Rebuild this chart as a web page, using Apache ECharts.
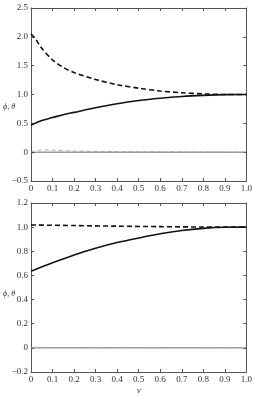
<!DOCTYPE html>
<html><head><meta charset="utf-8">
<script src="https://cdn.jsdelivr.net/npm/echarts@6/dist/echarts.min.js"></script>
<style>html,body{margin:0;padding:0;background:#fff}#c{width:255px;height:396px}</style>
</head><body><div id="c"></div>
<script>
// ---- Data (top panel) ----
var topSolidX = [0, 0.05, 0.1, 0.15, 0.2, 0.3, 0.4, 0.5, 0.6, 0.7, 0.8, 0.9, 1.0];
var topSolidY = [0.47, 0.55, 0.6, 0.65, 0.69, 0.77, 0.84, 0.895, 0.935, 0.965, 0.985, 0.998, 1.0];
var topDashX = [0, 0.02, 0.05, 0.1, 0.15, 0.2, 0.3, 0.4, 0.5, 0.6, 0.7, 0.8, 0.9, 1.0];
var topDashY = [2.05, 1.97, 1.8, 1.6, 1.47, 1.38, 1.26, 1.17, 1.11, 1.06, 1.03, 1.01, 1.0, 1.0];
var topThinSolidX = [0, 0.01, 0.03, 1.0];
var topThinSolidY = [-0.02, -0.01, 0.0, 0.0];
var topThinDashX = [0, 0.03, 0.06, 0.1, 0.2, 0.4, 0.6, 1.0];
var topThinDashY = [0, 0.03, 0.04, 0.035, 0.02, 0.01, 0.005, 0.0];
// ---- Data (bottom panel) ----
var botSolidX = [0, 0.1, 0.2, 0.3, 0.4, 0.5, 0.6, 0.7, 0.8, 0.9, 1.0];
var botSolidY = [0.635, 0.705, 0.77, 0.825, 0.872, 0.91, 0.945, 0.972, 0.99, 0.999, 1.0];
var botDashX = [0, 0.2, 0.4, 0.6, 0.8, 1.0];
var botDashY = [1.018, 1.013, 1.008, 1.004, 1.001, 1.0];
var botThinX = [0, 1.0];
var botThinY = [0, 0];
// ---- Axis ticks ----
var xTicks = [0, 0.1, 0.2, 0.3, 0.4, 0.5, 0.6, 0.7, 0.8, 0.9, 1.0];
var topYTicks = [-0.5, 0, 0.5, 1.0, 1.5, 2.0, 2.5];
var botYTicks = [-0.2, 0, 0.2, 0.4, 0.6, 0.8, 1.0, 1.2];
var yName = 'ϕ, θ';
var xName = 'v';

function pairs(xs, ys) { return xs.map(function (x, i) { return [x, ys[i]]; }); }
function fmtY(v) { if (Math.abs(v) < 1e-9) return '0'; var s = v.toFixed(1); return s.replace('-', '−'); }
function fmtX(v) { if (Math.abs(v) < 1e-9) return '0'; return v.toFixed(1); }

var font = 'Liberation Serif';
var axisCol = '#555';
var lab = { fontFamily: font, fontSize: 9, color: '#333' };

function xAx(grid, name) {
  return [{
    type: 'value', gridIndex: grid, min: xTicks[0], max: xTicks[xTicks.length - 1], interval: 0.1, position: 'bottom',
    axisLine: { onZero: false, lineStyle: { color: axisCol, width: 1 } },
    axisTick: { inside: true, length: 3, lineStyle: { color: axisCol } },
    axisLabel: Object.assign({ margin: 3, formatter: fmtX, showMaxLabel: true, showMinLabel: true }, lab),
    splitLine: { show: false },
    name: name || '', nameLocation: 'middle', nameGap: 14,
    nameTextStyle: { fontFamily: font, fontSize: 9, fontStyle: 'italic', color: '#333' }
  }, {
    type: 'value', gridIndex: grid, min: xTicks[0], max: xTicks[xTicks.length - 1], interval: 0.1, position: 'top',
    axisLine: { onZero: false, lineStyle: { color: axisCol, width: 1 } },
    axisTick: { inside: true, length: 3, lineStyle: { color: axisCol } },
    axisLabel: { show: false }, splitLine: { show: false }
  }];
}
function yAx(grid, min, max, interval) {
  return [{
    type: 'value', gridIndex: grid, min: min, max: max, interval: interval, position: 'left',
    axisLine: { onZero: false, lineStyle: { color: axisCol, width: 1 } },
    axisTick: { inside: true, length: 3, lineStyle: { color: axisCol } },
    axisLabel: Object.assign({ margin: 3, formatter: fmtY }, lab),
    splitLine: { show: false }
  }, {
    type: 'value', gridIndex: grid, min: min, max: max, interval: interval, position: 'right',
    axisLine: { onZero: false, lineStyle: { color: axisCol, width: 1 } },
    axisTick: { inside: true, length: 3, lineStyle: { color: axisCol } },
    axisLabel: { show: false }, splitLine: { show: false }
  }];
}

var xAxes = xAx(0).concat(xAx(1, xName));
var yAxes = yAx(0, topYTicks[0], topYTicks[topYTicks.length - 1], 0.5)
  .concat(yAx(1, botYTicks[0], botYTicks[botYTicks.length - 1], 0.2));

function line(xi, yi, data, width, color, type, z) {
  return {
    type: 'line', xAxisIndex: xi, yAxisIndex: yi, data: data, smooth: 0.3, symbol: 'none',
    lineStyle: { width: width, color: color, type: type }, z: z || 2, silent: true, animation: false
  };
}

var option = {
  animation: false,
  grid: [
    { left: 31, right: 5, top: 8, height: 173, containLabel: false },
    { left: 31, right: 5, top: 203, height: 174, containLabel: false }
  ],
  xAxis: xAxes,
  yAxis: yAxes,
  graphic: [
    { type: 'text', left: 3, top: 103, style: { text: yName, font: 'italic 8px "Liberation Serif"', fill: '#333' } },
    { type: 'text', left: 3, top: 290, style: { text: yName, font: 'italic 8px "Liberation Serif"', fill: '#333' } }
  ],
  series: [
    line(0, 0, pairs(topThinSolidX, topThinSolidY), 0.8, '#444', 'solid', 1),
    line(0, 0, pairs(topThinDashX, topThinDashY), 0.8, '#999', [4, 3], 1),
    line(0, 0, pairs(topSolidX, topSolidY), 1.6, '#111', 'solid', 3),
    line(0, 0, pairs(topDashX, topDashY), 1.6, '#111', [5, 3], 3),
    line(2, 2, pairs(botThinX, botThinY), 0.8, '#444', 'solid', 1),
    line(2, 2, pairs(botThinX, botThinY), 0.8, '#aaa', [4, 3], 1),
    line(2, 2, pairs(botSolidX, botSolidY), 1.6, '#111', 'solid', 3),
    line(2, 2, pairs(botDashX, botDashY), 1.6, '#111', [5, 3], 3)
  ]
};
var chart = echarts.init(document.getElementById('c'), null, { renderer: 'canvas' });
chart.setOption(option);
</script>
</body></html>
